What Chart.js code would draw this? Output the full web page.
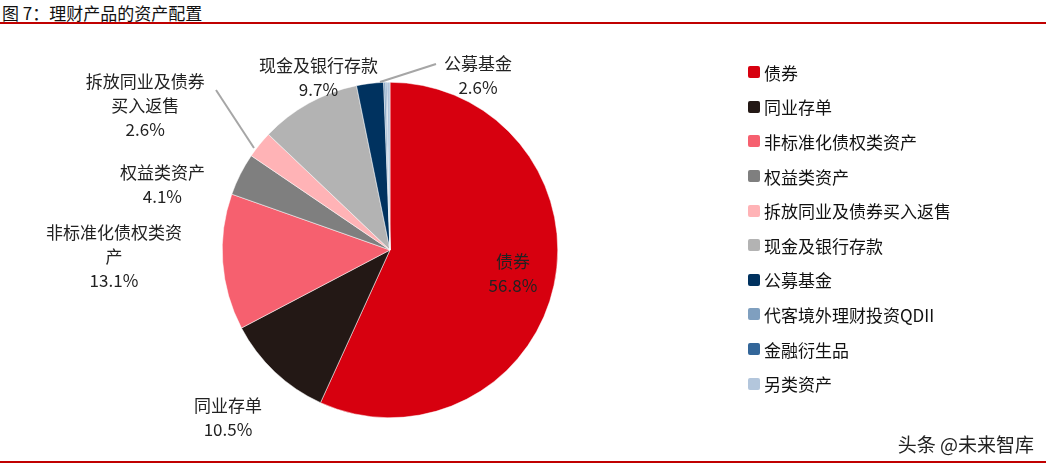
<!DOCTYPE html>
<html><head><meta charset="utf-8">
<script src="https://cdn.jsdelivr.net/npm/chart.js@4"></script>
<style>
body{margin:0;width:1046px;height:466px;background:#fff;font-family:"Noto Sans CJK SC",sans-serif;position:relative;overflow:hidden}
#title{position:absolute;left:2px;top:0;font-size:17px;color:#111}
.rule{position:absolute;left:0;width:1046px;height:2px;background:#c00000}
#legend{position:absolute;left:748px;top:55px;font-size:17px;color:#111}
#legend div{height:34.6px;display:flex;align-items:center}
#legend span{display:inline-block;width:12px;height:12px;margin-right:4px;border-radius:2px}
#wm{position:absolute;right:12px;top:430px;font-size:19px;color:#222}
</style></head><body>
<div id="title">图 7：理财产品的资产配置</div>
<div class="rule" style="top:22px"></div>
<div class="rule" style="top:461px"></div>
<canvas id="c" width="1046" height="466" style="position:absolute;left:0;top:0"></canvas>
<div id="legend"></div>
<div id="wm">头条 @未来智库</div>
<script>
// 数据
const categories = ['债券','同业存单','非标准化债权类资产','权益类资产','拆放同业及债券买入返售','现金及银行存款','公募基金','代客境外理财投资QDII','金融衍生品','另类资产'];
const values = [56.8,10.5,13.1,4.1,2.6,9.7,2.6,0.2,0.1,0.3];
const colors = ['#d7000f','#231815','#f6606f','#7f7f7f','#ffb3b6','#b3b3b3','#00325f','#7f9fbf','#336699','#b3c6dc'];
// 标签: 文本行, 半径系数, 偏移
const labelLines = [['债券','56.8%'],['同业存单','10.5%'],['非标准化债权类资','产','13.1%'],['权益类资产','4.1%'],['拆放同业及债券','买入返售','2.6%'],['现金及银行存款','9.7%'],['公募基金','2.6%'],null,null,null];
const labelPos = [[0.75,0,-3],[1.38,-3,-1],[1.62,-5,-13],[1.3,-33,33],[1.4,-62,3],[1.25,30,11],[1.2,112,25]];
const leaders = [null,null,null,null,[254,148,216,90],null,[380,82,436,64]];

const legend = document.getElementById('legend');
categories.forEach((c,i)=>{
  legend.innerHTML += `<div><span style="background:${colors[i]}"></span>${c}</div>`;
});

const labelPlugin = {
  id:'labels',
  afterDatasetsDraw(chart){
    const ctx = chart.ctx;
    const meta = chart.getDatasetMeta(0);
    ctx.save();
    ctx.font = '17px "Noto Sans CJK SC", sans-serif';
    ctx.textAlign = 'center';
    ctx.textBaseline = 'middle';
    meta.data.forEach((arc,i)=>{
      if(!labelLines[i]) return;
      const p = labelPos[i];
      const a = (arc.startAngle+arc.endAngle)/2;
      const x = arc.x + Math.cos(a)*arc.outerRadius*p[0] + p[1];
      const y = arc.y + Math.sin(a)*arc.outerRadius*p[0] + p[2];
      const lines = labelLines[i];
      ctx.fillStyle = '#222';
      lines.forEach((t,k)=>ctx.fillText(t,x,y+(k-(lines.length-1)/2)*24));
      if(leaders[i]){
        ctx.strokeStyle = '#a6a6a6';ctx.lineWidth = 2;
        ctx.beginPath();ctx.moveTo(leaders[i][0],leaders[i][1]);ctx.lineTo(leaders[i][2],leaders[i][3]);ctx.stroke();
      }
    });
    ctx.restore();
  }
};

new Chart(document.getElementById('c').getContext('2d'),{
  type:'pie',
  data:{labels:categories,datasets:[{data:values,backgroundColor:colors,borderColor:'#fff',borderWidth:0.5}]},
  options:{
    responsive:false,animation:false,
    layout:{padding:{left:222,right:488,top:82,bottom:48}},
    plugins:{legend:{display:false},tooltip:{enabled:false}}
  },
  plugins:[labelPlugin]
});
</script>
</body></html>
